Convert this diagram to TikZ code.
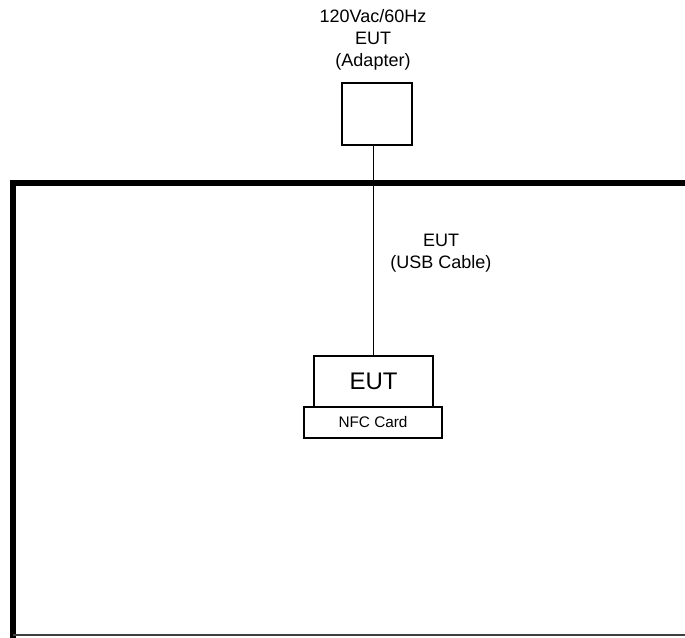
\documentclass[tikz,border=0pt]{standalone}
\usepackage{fontspec}
\setmainfont{Liberation Sans}
\begin{document}
\begin{tikzpicture}[x=.75pt, y=-.75pt,
	box/.style={draw, line width=1.5pt, inner sep=0pt},
	lbl/.style={align=center, font=\fontsize{13.5}{16.5}\selectfont}]
	\useasboundingbox (0,0) rectangle (685,637);
	% room walls
	\draw[line width=4.2pt] (13,640)--(13,183)--(687,183);
	\draw[line width=1.1pt, black!75] (13,635)--(687,635);
	% equipment
	\node[box, minimum width=52.5pt, minimum height=46.5pt] (adapter) at (377,114) {};
	\node[box, minimum width=89.25pt, minimum height=38.25pt, font=\fontsize{18}{20}\selectfont] (eut) at (373.5,381.5) {EUT};
	\node[box, minimum width=103.5pt, minimum height=23.25pt, font=\fontsize{11.5}{13}\selectfont] (nfc) at (373,422.5) {NFC Card};
	\draw[line width=1.2pt] (eut.north) -- (eut.north |- adapter.south);
	% labels
	\node[lbl] (supply) at (373,40) {120Vac/60Hz\\EUT\\(Adapter)};
	\node[lbl] (cable) at (441,253) {EUT\\(USB Cable)};
\end{tikzpicture}
\end{document}
